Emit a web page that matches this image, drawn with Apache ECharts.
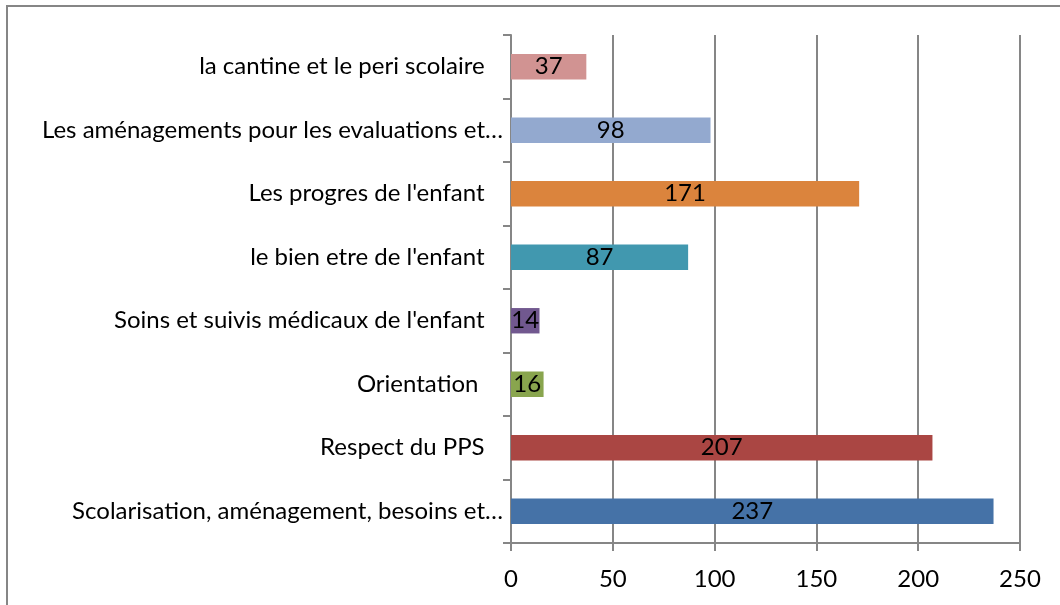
<!DOCTYPE html>
<html>
<head>
    <meta charset="utf-8">
    <title>Thèmes</title>
    <script src="https://cdn.jsdelivr.net/npm/echarts@6/dist/echarts.min.js"></script>
    <style type="text/css">
        body { margin: 0; background: #fff; }
        #main { width: 1060px; height: 605px; }
    </style>
</head>
<body>
<div id="main"></div>
<script type="text/javascript">
    // categories listed bottom to top (category axis starts at the bottom)
    var categories = [
        'Scolarisation, aménagement, besoins et…',
        'Respect du PPS   ',
        'Orientation    ',
        "Soins et suivis médicaux de l'enfant   ",
        "le bien etre de l'enfant   ",
        "Les progres de l'enfant   ",
        'Les aménagements pour les evaluations et…',
        'la cantine et le peri scolaire   '
    ];
    var values = [237, 207, 16, 14, 87, 171, 98, 37];
    var barColors = ['#4572A7', '#AA4643', '#89A54E', '#71588F', '#4198AF', '#DB843D', '#93A9CF', '#D19392'];
    var xTicks = [0, 50, 100, 150, 200, 250];

    var font = 'Lato, "Open Sans", sans-serif';

    var myChart = echarts.init(document.getElementById('main'));
    var option = {
        animation: false,
        textStyle: { fontFamily: font },
        graphic: [{
            type: 'rect',
            shape: { x: 7, y: 6, width: 1200, height: 800 },
            style: { fill: 'none', stroke: '#868686', lineWidth: 2 },
            silent: true
        }],
        grid: { left: 511, right: 40, top: 35, bottom: 62, containLabel: false },
        xAxis: {
            type: 'value',
            min: xTicks[0],
            max: xTicks[xTicks.length - 1],
            interval: xTicks[1] - xTicks[0],
            axisLine: { show: true, lineStyle: { color: '#868686', width: 2 } },
            axisTick: { show: true, length: 8, lineStyle: { color: '#868686', width: 2 } },
            splitLine: { show: true, lineStyle: { color: '#868686', width: 2 } },
            axisLabel: { color: '#000', fontSize: 24, fontFamily: font, margin: 24 }
        },
        yAxis: {
            type: 'category',
            data: categories,
            axisLine: { show: true, lineStyle: { color: '#868686', width: 2 } },
            axisTick: { show: true, length: 8, lineStyle: { color: '#868686', width: 2 } },
            axisLabel: { color: '#000', fontSize: 24, fontFamily: font, margin: 8 }
        },
        series: [{
            type: 'bar',
            data: values.map(function (v, i) {
                return { value: v, itemStyle: { color: barColors[i] } };
            }),
            barCategoryGap: '60%',
            label: {
                show: true,
                position: 'inside',
                color: '#000',
                fontSize: 24,
                fontFamily: font
            }
        }]
    };
    myChart.setOption(option);
</script>
</body>
</html>
